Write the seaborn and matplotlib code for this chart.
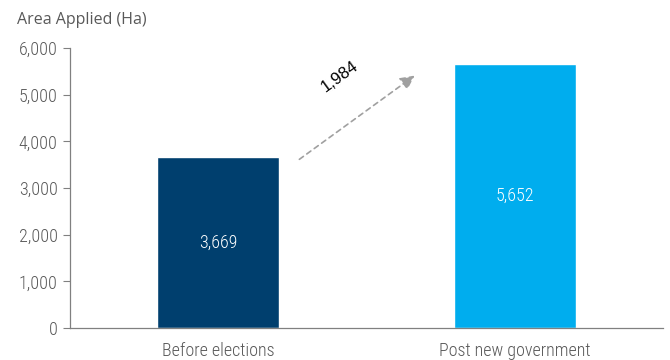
import matplotlib
matplotlib.use("Agg")
import matplotlib.pyplot as plt
from matplotlib import font_manager
import seaborn as sns
import pandas as pd

categories = ["Before elections", "Post new government"]
area = [3669, 5652]
bar_colors = ["#003f6e", "#00adee"]
change_label = "1,984"

sns.set_style("white")
names = {f.name for f in font_manager.fontManager.ttflist}
narrow = next((n for n in ["Liberation Sans Narrow", "Roboto Condensed", "Open Sans Condensed"]
               if n in names), None)
if narrow:
    plt.rcParams['font.family'] = [narrow, 'DejaVu Sans']
    stretch = "normal"
else:
    plt.rcParams['font.family'] = ['DejaVu Sans']
    stretch = "condensed"
plt.rcParams['font.stretch'] = stretch

df = pd.DataFrame({"period": categories, "area": area})

fig = plt.figure(figsize=(6.7, 3.6), dpi=100)
ax = fig.add_axes([0.1045, 0.0889, 0.885, 0.7778])
sns.barplot(data=df, x="period", y="area", hue="period", palette=bar_colors,
            width=0.41, legend=False, ax=ax, saturation=1)

ax.set_ylim(0, 6000)
ax.set_xlim(-0.5, 1.5)
ax.set_yticks(range(0, 6001, 1000))
ax.set_yticklabels([f"{v:,}" for v in range(0, 6001, 1000)], fontsize=13, color="#595959",
                   fontweight="light")
ax.set_xticks([0, 1])
ax.set_xticklabels(categories, fontsize=13, color="#595959", fontweight="light")
ax.set_xticks([-0.5, 0.5, 1.5], minor=True)
ax.tick_params(axis="x", which="major", length=0, pad=10)
ax.tick_params(axis="x", which="minor", length=5, color="#808080", direction="out")
ax.tick_params(axis="y", length=5, color="#808080", direction="out", pad=4, left=True)
ax.set_xlabel("")
ax.set_ylabel("")
for s in ["top", "right"]:
    ax.spines[s].set_visible(False)
for s in ["left", "bottom"]:
    ax.spines[s].set_color("#808080")
    ax.spines[s].set_linewidth(0.9)

for i, v in enumerate(area):
    ax.text(i, v / 2, f"{v:,}", ha="center", va="center", color="white", fontsize=13,
            fontweight="light")

ax.annotate("", xy=(0.67, 5443), xytext=(0.266, 3579),
            arrowprops=dict(arrowstyle="-|>,head_length=0.7,head_width=0.35",
                            linestyle=(0, (3, 2.5)), color="#a0a0a0",
                            lw=1.2, mutation_scale=12))
ax.text(0.41, 5379, change_label, rotation=36, ha="center", va="center",
        fontsize=12, color="black", family=["Liberation Sans", "DejaVu Sans"])

fig.text(0.025, 0.945, "Area Applied (Ha)", fontsize=11.5, color="#595959",
         family=["Open Sans", "DejaVu Sans"], stretch="normal", ha="left", va="center")

fig.savefig("out.png", dpi=100)
